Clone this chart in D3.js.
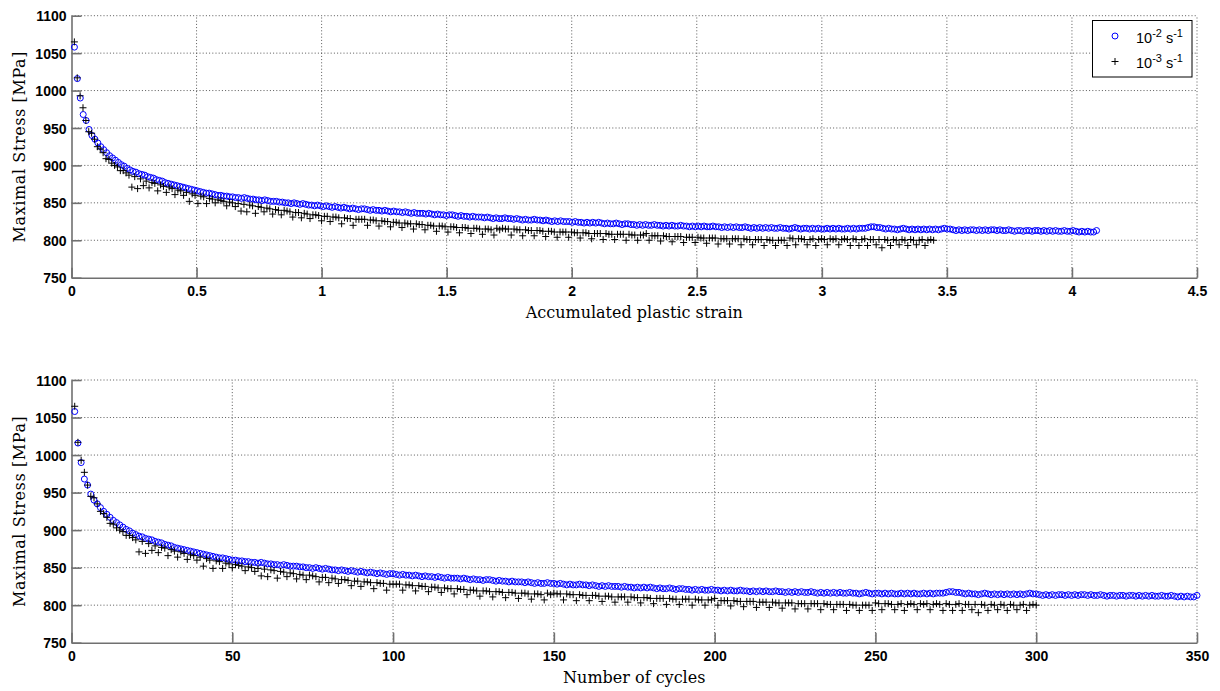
<!DOCTYPE html>
<html><head><meta charset="utf-8">
<script src="https://cdn.jsdelivr.net/npm/d3@7"></script>
<style>
html,body{margin:0;padding:0;background:#fff;}
svg{display:block;}
.tick text{font-family:"Liberation Sans",Arial,sans-serif;font-weight:bold;font-size:14px;fill:#000;}
.atitle{font-family:"DejaVu Serif",serif;font-size:16px;fill:#000;}
.leg{font-family:"Liberation Sans",Arial,sans-serif;font-size:14.5px;fill:#000;}
</style></head>
<body>
<svg id="chart" width="1220" height="691"></svg>
<script>
// ---- Data ----
const seriesNames = ["10^-2 s^-1", "10^-3 s^-1"];
// accumulated plastic strain per cycle for each strain rate
const strainPerCycle = [0.01171, 0.01149];

// Maximal stress [MPa], 10^-2 s^-1, cycles 1..350
const stressFast = [
1058,1016,990,968,960,948,940,935,930,925,
921,917,913,910,907,904,901,899,896,894,
892,891,889,888,887,885,884,883,881,880,
879,877,876,875,874,873,872,871,870,869,
868,867,866,865,864,863,863,862,861,860,
860,859,859,858,858,857,857,856,857,856,
855,855,854,854,853,854,853,852,852,852,
851,851,850,850,849,850,849,848,849,848,
847,847,846,847,846,845,846,845,844,845,
844,843,844,843,842,843,842,841,842,842,
841,840,841,840,840,839,840,839,838,839,
838,838,837,838,837,836,837,836,836,836,
835,836,835,834,835,834,834,833,834,834,
833,832,833,832,832,831,832,831,831,831,
830,831,830,829,830,829,829,830,829,829,
828,829,828,827,828,827,827,828,827,827,
826,827,826,825,826,825,826,825,825,825,
824,825,824,824,823,824,823,824,823,824,
823,822,823,822,822,823,822,821,822,822,
821,821,820,821,820,821,820,820,821,820,
820,819,820,819,820,819,819,820,819,819,
818,819,818,819,818,819,818,818,819,818,
818,817,818,817,818,817,818,817,817,818,
817,816,817,816,817,816,817,816,817,816,
816,817,816,816,815,816,817,816,815,816,
816,815,816,815,816,815,815,816,815,816,
815,816,815,815,816,815,816,815,816,816,
816,817,818,818,817,817,816,815,816,815,
815,814,815,816,815,814,815,814,815,814,
815,814,815,814,815,814,815,816,815,815,
814,813,814,813,814,813,814,814,813,814,
813,814,813,814,814,813,814,813,813,814,
813,812,813,813,812,813,813,812,813,813,
812,813,812,813,812,813,812,812,813,812,
812,813,812,811,812,811,812,811,811,813
];

// Maximal stress [MPa], 10^-3 s^-1, cycles 1..300
const stressSlow = [
1065,1017,993,977,960,945,943,935,925,922,
917,909,908,903,900,898,893,893,890,887,
871,885,869,882,873,879,870,877,876,866,
874,872,864,871,869,861,867,866,860,864,
852,862,860,849,859,858,849,856,855,850,
854,853,852,846,851,850,845,849,839,848,
838,847,846,836,845,844,838,843,842,835,
841,840,834,840,839,838,831,837,837,830,
836,835,829,834,834,833,826,832,832,825,
831,831,830,822,830,829,829,820,828,828,
828,828,820,827,827,826,819,826,825,825,
818,824,824,823,817,823,822,822,815,822,
821,821,814,820,820,819,812,819,819,818,
811,818,818,817,810,817,817,816,809,816,
816,815,808,815,815,814,807,816,814,816,
815,815,807,815,814,814,806,814,813,813,
806,813,813,812,805,812,812,811,804,811,
811,811,804,811,810,810,803,810,810,809,
802,809,809,809,801,809,808,808,801,808,
808,808,800,808,807,807,800,807,807,809,
800,806,806,806,799,806,805,805,798,805,
805,805,797,804,804,804,797,804,803,803,
796,803,803,803,795,802,802,802,795,802,
802,802,794,802,801,801,794,801,801,801,
793,801,800,800,793,800,800,800,793,803,
802,794,802,802,801,794,801,802,793,801,
802,801,794,802,801,802,794,801,802,801,
793,802,801,793,801,802,793,801,801,794,
801,790,801,800,793,801,800,794,801,800,
793,801,800,794,800,801,793,800,801,800
];

const yTicks = [750, 800, 850, 900, 950, 1000, 1050, 1100];
const xTicksStrain = [0, 0.5, 1, 1.5, 2, 2.5, 3, 3.5, 4, 4.5];
const xTicksCycles = [0, 50, 100, 150, 200, 250, 300, 350];

// ---- Drawing ----
const svg = d3.select("#chart");
const X0 = 71.5, X1 = 1197;

const panels = [
  { top: 15.7, bottom: 277.7, xDomain: [0, 4.5], xTicks: xTicksStrain, xTitle: "Accumulated plastic strain",
    xOf: (si, i) => (i + 1) * strainPerCycle[si], legend: true },
  { top: 380, bottom: 642.7, xDomain: [0, 350], xTicks: xTicksCycles, xTitle: "Number of cycles",
    xOf: (si, i) => i + 1, legend: false }
];

const axisColor = "#707070";

panels.forEach(p => {
  const x = d3.scaleLinear().domain(p.xDomain).range([X0, X1]);
  const y = d3.scaleLinear().domain([750, 1100]).range([p.bottom, p.top]);
  const g = svg.append("g");

  // grid
  const grid = g.append("g").attr("stroke", "#222").attr("stroke-width", 1)
    .attr("stroke-dasharray", "1,2.2").attr("stroke-opacity", 0.75);
  p.xTicks.filter(v => v !== p.xDomain[0]).forEach(v => {
    grid.append("line").attr("x1", x(v)).attr("x2", x(v)).attr("y1", p.bottom).attr("y2", p.top);
  });
  yTicks.filter(v => v !== 750).forEach(v => {
    grid.append("line").attr("x1", X0).attr("x2", X1).attr("y1", y(v)).attr("y2", y(v));
  });

  // axes
  const ax = g.append("g").attr("transform", `translate(0,${p.bottom})`)
    .call(d3.axisBottom(x).tickValues(p.xTicks).tickFormat(d => String(d))
      .tickSizeInner(-10).tickSizeOuter(0).tickPadding(8));
  const ay = g.append("g").attr("transform", `translate(${X0},0)`)
    .call(d3.axisLeft(y).tickValues(yTicks).tickFormat(d => String(d))
      .tickSizeInner(-10).tickSizeOuter(0).tickPadding(5));
  [ax, ay].forEach(a => {
    a.select(".domain").attr("stroke", axisColor).attr("stroke-width", 1.6);
    a.selectAll(".tick line").attr("stroke", axisColor).attr("stroke-width", 1.6);
  });
  ax.selectAll(".tick text").attr("dy", "0.75em");
  ay.selectAll(".tick text").attr("dy", "0.36em");

  // titles
  g.append("text").attr("class", "atitle").attr("text-anchor", "middle")
    .attr("x", (X0 + X1) / 2).attr("y", p.bottom + 40).text(p.xTitle);
  g.append("text").attr("class", "atitle").attr("text-anchor", "middle")
    .attr("letter-spacing", "0.6px")
    .attr("transform", `translate(25,${(p.top + p.bottom) / 2}) rotate(-90)`)
    .text("Maximal Stress [MPa]");

  // series: 10^-2 circles
  g.append("g").selectAll("circle").data(stressFast).join("circle")
    .attr("cx", (d, i) => x(p.xOf(0, i))).attr("cy", d => y(d)).attr("r", 3)
    .attr("fill", "none").attr("stroke", "#0000ff").attr("stroke-width", 1);
  // series: 10^-3 plus
  g.append("g").selectAll("path").data(stressSlow).join("path")
    .attr("d", (d, i) => { const cx = x(p.xOf(1, i)), cy = y(d);
      return `M${cx - 3.5},${cy}H${cx + 3.5}M${cx},${cy - 3.5}V${cy + 3.5}`; })
    .attr("fill", "none").attr("stroke", "#000").attr("stroke-width", 1);

  if (p.legend) {
    const lg = g.append("g");
    lg.append("rect").attr("x", 1092.5).attr("y", 20.5).attr("width", 99.5).attr("height", 56.5)
      .attr("fill", "#fff").attr("stroke", "#000").attr("stroke-width", 1);
    lg.append("circle").attr("cx", 1115).attr("cy", 36).attr("r", 3)
      .attr("fill", "none").attr("stroke", "#0000ff");
    lg.append("path").attr("d", "M1111.5,61.5H1118.5M1115,58V65").attr("stroke", "#000");
    const rows = [{y: 43, e: "-2"}, {y: 68, e: "-3"}];
    rows.forEach(r => {
      const t = lg.append("text").attr("class", "leg").attr("x", 1136).attr("y", r.y);
      t.append("tspan").text("10");
      t.append("tspan").attr("dy", -6).attr("font-size", "11px").text(r.e);
      t.append("tspan").attr("dy", 6).text("\u00a0s");
      t.append("tspan").attr("dy", -6).attr("font-size", "11px").text("-1");
    });
  }
});
</script>
</body></html>
